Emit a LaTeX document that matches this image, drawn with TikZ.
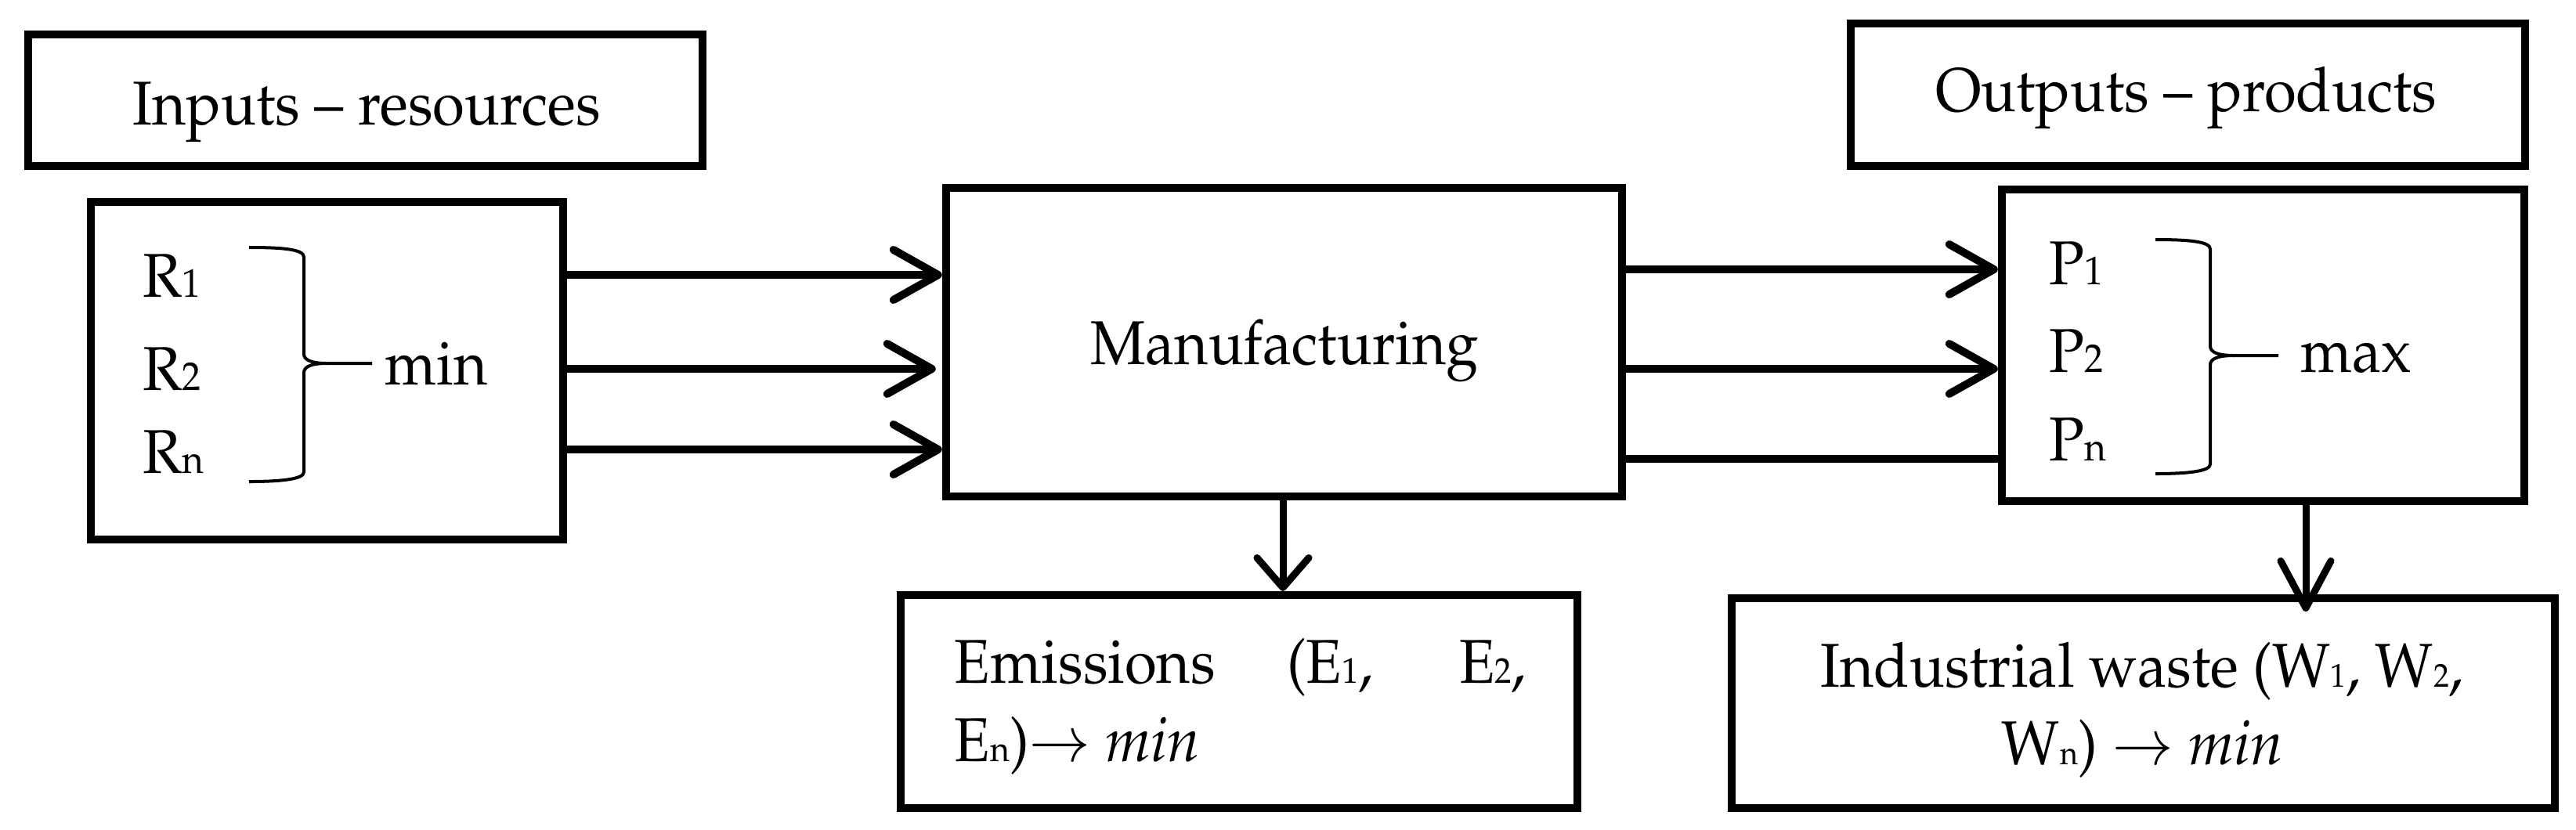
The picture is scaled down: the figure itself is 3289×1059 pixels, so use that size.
\documentclass[tikz,border=0pt]{standalone}
\usepackage[T1]{fontenc}
\usepackage{mathpazo}
\usepackage{graphicx}
\usetikzlibrary{arrows.meta}
\newcommand\sbr[1]{{\fontsize{14.5}{14.5}\selectfont #1}}
\newcommand\sbe[1]{{\fontsize{13}{13}\selectfont #1}}
\newcommand\sbw[1]{{\fontsize{12}{12}\selectfont #1}}
\newcommand\cx[1]{\scalebox{0.94}[1]{#1}}
\begin{document}
\begin{tikzpicture}[x=0.01cm,y=-0.01cm,
  box/.style={draw, line width=1mm, inner sep=0pt},
  txt/.style={font=\fontsize{22.5}{28}\selectfont, inner sep=0pt},
  harr/.style={line width=1mm, -{Straight Barb[length=5.7mm,width=6.4mm,round]}},
  plain/.style={line width=1mm},
  earr/.style={line width=0.9mm, -{Straight Barb[length=3.8mm,width=6.6mm,round]}},
  warr/.style={line width=0.9mm, -{Straight Barb[length=6mm,width=6.4mm,round]}},
  bracepic/.pic={
    \draw[line width=0.4mm] (-70,-148) .. controls (-30,-148) and (0,-146) .. (0,-136) -- (0,-12) .. controls (0,-4) and (10,0) .. (30,0) -- (87,0);
    \draw[line width=0.4mm] (30,0) .. controls (10,0) and (0,4) .. (0,12) -- (0,139) .. controls (0,148) and (-30,151) .. (-70,151);
  }]
\useasboundingbox (0,0) rectangle (3289,1059);

% boxes
\node[box, minimum width=8.61cm, minimum height=1.68cm] (inputs) at (466.5,128) {};
\node[box, minimum width=8.61cm, minimum height=1.82cm] (outputs) at (2793.5,121) {};
\node[box, minimum width=6.03cm, minimum height=4.31cm] (rbox) at (417.5,473.5) {};
\node[box, minimum width=8.63cm, minimum height=3.94cm] (manuf) at (1639.5,437) {};
\node[box, minimum width=6.67cm, minimum height=3.98cm] (pbox) at (2889.5,441) {};
\node[box, minimum width=8.64cm, minimum height=2.72cm] (emis) at (1582,896) {};
\node[box, minimum width=10.51cm, minimum height=2.68cm] (waste) at (2736.5,898) {};

% texts
\node[txt, anchor=base] (tin) at (468,159) {\cx{Inputs -- resources}};
\node[txt, anchor=base] (tout) at (2791,142) {\cx{Outputs -- products}};
\node[txt, anchor=base] (tman) at (1640,465) {\cx{Manufacturing}};
\node[txt, anchor=base west] (r1) at (182,379) {\cx{R\sbr{1}}};
\node[txt, anchor=base west] (r2) at (182,498) {\cx{R\sbr{2}}};
\node[txt, anchor=base west] (rn) at (182,604) {\cx{R\sbr{n}}};
\node[txt, anchor=base west] (tmin) at (491,491) {\cx{min}};
\node[txt, anchor=base west] (p1) at (2616,363) {\cx{P\sbr{1}}};
\node[txt, anchor=base west] (p2) at (2616,475) {\cx{P\sbr{2}}};
\node[txt, anchor=base west] (pn) at (2616,588) {\cx{P\sbr{n}}};
\node[txt, anchor=base west] (tmax) at (2937,475) {\cx{max}};
\node[txt, anchor=base west] (e1) at (1218,872) {\cx{\makebox[7.76cm][s]{Emissions (E\sbe{1}, E\sbe{2},}}};
\node[txt, anchor=base west] (e2) at (1218,972) {\cx{E\sbe{n})$\rightarrow$ \textit{min}}};
\node[txt, anchor=base] (w1) at (2735,877) {\cx{Industrial waste (W\sbw{1}, W\sbw{2},}};
\node[txt, anchor=base] (w2) at (2735,976) {\cx{W\sbw{n}) $\rightarrow$ \textit{min}}};

% braces
\pic at (388,464) {bracepic};
\pic at (2822,454) {bracepic};

% connector levels
\coordinate (a1) at (0,351);
\coordinate (a2) at (0,471);
\coordinate (a3) at (0,574);
\coordinate (b1) at (0,344);
\coordinate (b2) at (0,471);
\coordinate (b3) at (0,586);
\coordinate (ex) at (1638,0);
\coordinate (wx) at (2944,0);

\draw[harr] (rbox.east |- a1) -- (manuf.west |- a1);
\draw[harr, shorten >=0.8mm] (rbox.east |- a2) -- (manuf.west |- a2);
\draw[harr] (rbox.east |- a3) -- (manuf.west |- a3);
\draw[harr] (manuf.east |- b1) -- (pbox.west |- b1);
\draw[harr] (manuf.east |- b2) -- (pbox.west |- b2);
\draw[plain] (manuf.east |- b3) -- (pbox.west |- b3);
\draw[earr] (manuf.south -| ex) -- (emis.north -| ex);
\draw[warr, shorten >=-2.2mm] (pbox.south -| wx) -- (waste.north -| wx);
\end{tikzpicture}
\end{document}
